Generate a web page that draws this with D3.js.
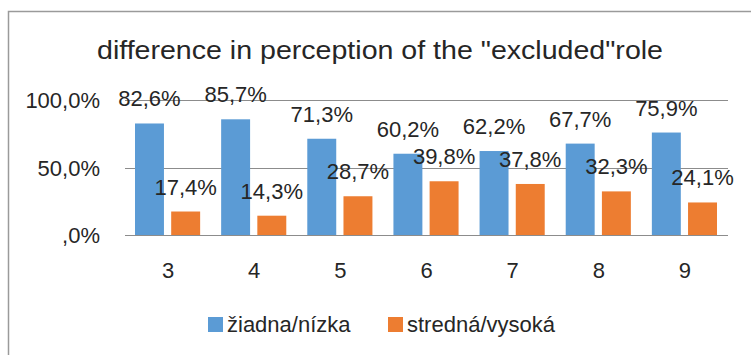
<!DOCTYPE html>
<html>
<head>
<meta charset="utf-8">
<script src="https://cdn.jsdelivr.net/npm/d3@7"></script>
<style>
  html, body { margin: 0; padding: 0; background: #fff; }
  svg { display: block; font-family: "Liberation Sans", Arial, sans-serif; }
</style>
</head>
<body>
<svg id="chart" width="751" height="355"></svg>
<script>
// Categories and series values (percent)
const categories = ["3", "4", "5", "6", "7", "8", "9"];
const seriesNames = ["žiadna/nízka", "stredná/vysoká"];
const lowValues = [82.6, 85.7, 71.3, 60.2, 62.2, 67.7, 75.9];
const midHighValues = [17.4, 14.3, 28.7, 39.8, 37.8, 32.3, 24.1];
const yTicks = [0, 50, 100];
const yTickLabels = [",0%", "50,0%", "100,0%"];
const colors = ["#5b9bd5", "#ed7d31"];
const titleText = "difference in perception of the \"excluded\"role";

const svg = d3.select("#chart");
const textColor = "#262626";

// chart frame
svg.append("rect")
  .attr("x", 8.5).attr("y", 11.5)
  .attr("width", 760).attr("height", 360)
  .attr("fill", "#fff")
  .attr("stroke", "#9a9a9a")
  .attr("stroke-width", 1.5);

// title
svg.append("text")
  .attr("x", 380).attr("y", 59)
  .attr("text-anchor", "middle")
  .attr("font-size", 25)
  .attr("fill", textColor)
  .attr("textLength", 566)
  .attr("lengthAdjust", "spacingAndGlyphs")
  .text(titleText);

const x0 = d3.scaleBand().domain(categories).range([125, 728]).padding(0);
const x1 = d3.scaleBand().domain([0, 1]).range([10, x0.bandwidth() - 11]).paddingInner(0.2);
const y = d3.scaleLinear().domain([0, 100]).range([235, 100]);

// gridlines
svg.append("g").selectAll("line")
  .data(yTicks)
  .join("line")
  .attr("x1", 125).attr("x2", 728)
  .attr("y1", d => Math.round(y(d)) + 0.5)
  .attr("y2", d => Math.round(y(d)) + 0.5)
  .attr("stroke", "#8c8c8c")
  .attr("stroke-width", 1.2);

// y tick labels
svg.append("g").selectAll("text")
  .data(yTicks)
  .join("text")
  .attr("x", 100)
  .attr("y", d => y(d) + 8)
  .attr("text-anchor", "end")
  .attr("font-size", 22)
  .attr("fill", textColor)
  .text((d, i) => yTickLabels[i]);

// x tick labels
svg.append("g").selectAll("text")
  .data(categories)
  .join("text")
  .attr("x", d => x0(d) + x0.bandwidth() / 2)
  .attr("y", 278)
  .attr("text-anchor", "middle")
  .attr("font-size", 22)
  .attr("fill", textColor)
  .text(d => d);

const rows = [];
categories.forEach((c, i) => {
  rows.push({ cat: c, s: 0, v: lowValues[i] });
  rows.push({ cat: c, s: 1, v: midHighValues[i] });
});

const fmt = d3.formatLocale({ decimal: ",", thousands: " ", grouping: [3], currency: ["", "%"] }).format(".1f");

// bars
svg.append("g").selectAll("rect")
  .data(rows)
  .join("rect")
  .attr("x", d => x0(d.cat) + x1(d.s))
  .attr("y", d => y(d.v))
  .attr("width", x1.bandwidth())
  .attr("height", d => y(0) - y(d.v))
  .attr("fill", d => colors[d.s]);

// value labels
svg.append("g").selectAll("text")
  .data(rows)
  .join("text")
  .attr("x", d => x0(d.cat) + x1(d.s) + x1.bandwidth() / 2)
  .attr("y", d => y(d.v) - 17)
  .attr("text-anchor", "middle")
  .attr("font-size", 22)
  .attr("fill", textColor)
  .text(d => fmt(d.v) + "%");

// legend
const legendX = [208, 388];
const legend = svg.append("g").selectAll("g")
  .data(seriesNames)
  .join("g")
  .attr("transform", (d, i) => `translate(${legendX[i]},317)`);
legend.append("rect")
  .attr("width", 15).attr("height", 15)
  .attr("fill", (d, i) => colors[i]);
legend.append("text")
  .attr("x", 19).attr("y", 15)
  .attr("font-size", 22)
  .attr("fill", textColor)
  .text(d => d);
</script>
</body>
</html>
